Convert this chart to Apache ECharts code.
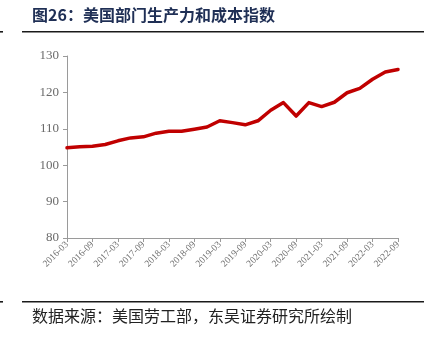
<!DOCTYPE html>
<html>
<head>
<meta charset="utf-8">
<script src="https://cdn.jsdelivr.net/npm/echarts@6/dist/echarts.min.js"></script>
<style>
html,body{margin:0;padding:0;background:#fff;}
#chart{width:436px;height:337px;}
</style>
</head>
<body>
<div id="chart"></div>
<script>
// Quarterly periods, 2016-03 .. 2022-09
var quarters = [
  '2016-03','2016-06','2016-09','2016-12',
  '2017-03','2017-06','2017-09','2017-12',
  '2018-03','2018-06','2018-09','2018-12',
  '2019-03','2019-06','2019-09','2019-12',
  '2020-03','2020-06','2020-09','2020-12',
  '2021-03','2021-06','2021-09','2021-12',
  '2022-03','2022-06','2022-09'
];
// Productivity & cost index values
var indexValues = [
  104.8, 105.1, 105.2, 105.7,
  106.7, 107.5, 107.8, 108.8,
  109.3, 109.3, 109.9, 110.5,
  112.2, 111.7, 111.1, 112.2,
  115.1, 117.2, 113.5, 117.2,
  116.1, 117.3, 119.9, 121.1,
  123.6, 125.6, 126.3
];
var yTicks = { min: 80, max: 130, step: 10 };

var titleText = '图26：美国部门生产力和成本指数';
var sourceText = '数据来源：美国劳工部，东吴证券研究所绘制';

var chart = echarts.init(document.getElementById('chart'), null, { renderer: 'canvas' });
var serif = '"Liberation Serif","DejaVu Serif",serif';
var cjk = '"Noto Sans CJK SC","Noto Sans CJK JP",sans-serif';

chart.setOption({
  backgroundColor: '#ffffff',
  animation: false,
  grid: { left: 67, right: 38, top: 56, bottom: 99, containLabel: false },
  xAxis: {
    type: 'category',
    data: quarters,
    boundaryGap: false,
    axisLine: { lineStyle: { color: '#9a9a9a', width: 1 } },
    axisTick: { show: true, interval: 1, length: 4, inside: false, lineStyle: { color: '#9a9a9a' } },
    axisLabel: {
      interval: 1, rotate: 45, color: '#6f6f6f', fontSize: 9.5,
      fontFamily: serif, margin: 5
    },
    splitLine: { show: false }
  },
  yAxis: {
    type: 'value',
    min: yTicks.min, max: yTicks.max, interval: yTicks.step,
    axisLine: { show: true, lineStyle: { color: '#9a9a9a', width: 1 } },
    axisTick: { show: true, length: 4, lineStyle: { color: '#9a9a9a' } },
    axisLabel: { color: '#6a6a6a', fontSize: 13, fontFamily: serif, margin: 8 },
    splitLine: { show: false }
  },
  series: [{
    type: 'line',
    data: indexValues,
    symbol: 'none',
    smooth: false,
    lineStyle: { color: '#c00000', width: 3.5, join: 'round', cap: 'round' }
  }],
  graphic: [
    { type: 'text', left: 32, top: 7,
      style: { text: titleText, fill: '#1f2f55', font: 'bold 16px ' + cjk } },
    { type: 'rect', shape: { x: 22, y: 31, width: 402, height: 1.6 }, style: { fill: '#1a1a1a' } },
    { type: 'rect', shape: { x: 0, y: 31, width: 3, height: 1.6 }, style: { fill: '#1a1a1a' } },
    { type: 'rect', shape: { x: 22, y: 301, width: 402, height: 1.6 }, style: { fill: '#1a1a1a' } },
    { type: 'rect', shape: { x: 0, y: 301, width: 3, height: 1.6 }, style: { fill: '#1a1a1a' } },
    { type: 'text', left: 32, top: 308,
      style: { text: sourceText, fill: '#222222', font: '16px ' + cjk } }
  ]
});
</script>
</body>
</html>
